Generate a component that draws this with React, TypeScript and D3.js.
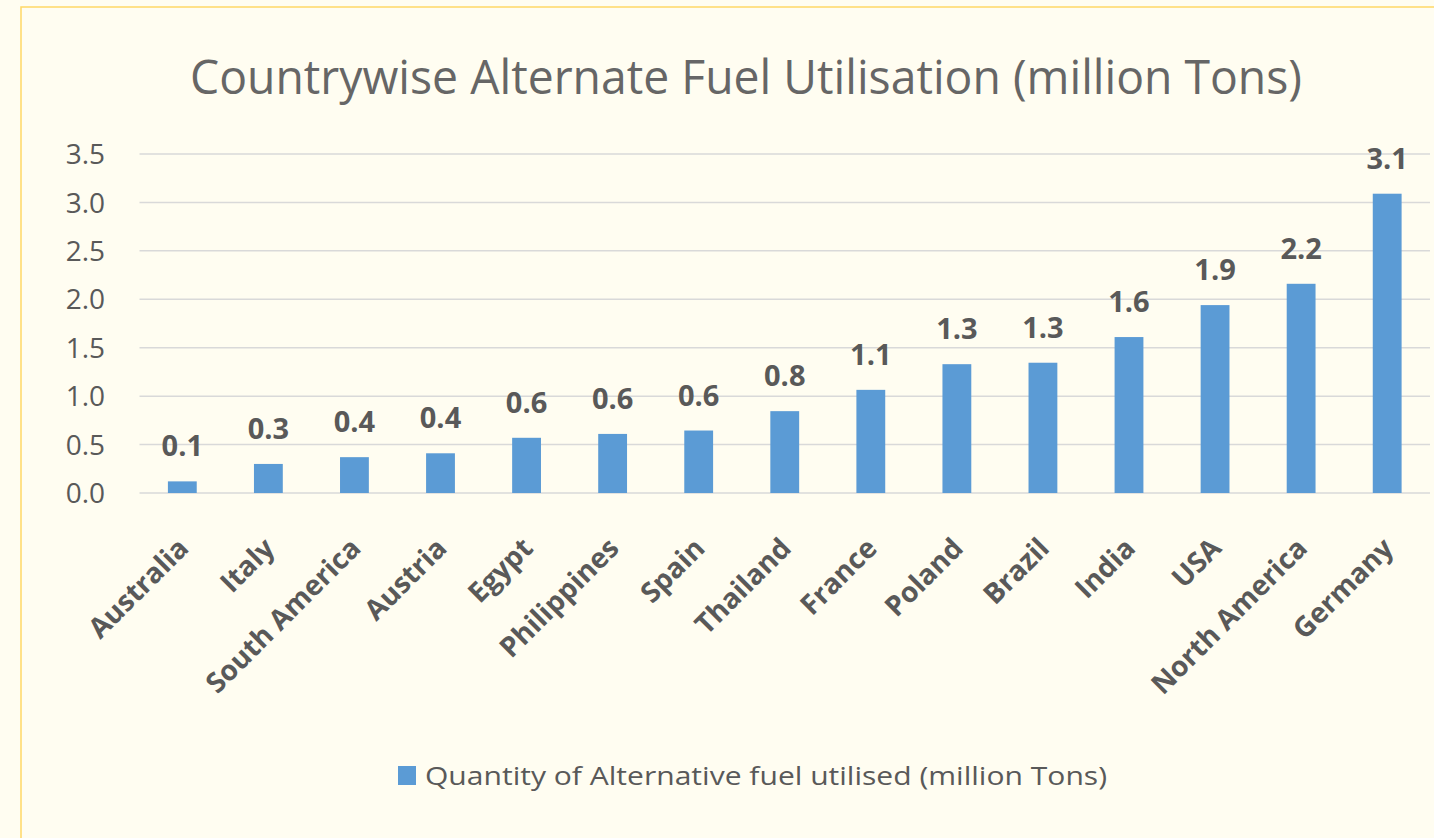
import React from "react";
import * as d3 from "d3";

const countries = [
  "Australia", "Italy", "South America", "Austria", "Egypt", "Philippines", "Spain",
  "Thailand", "France", "Poland", "Brazil", "India", "USA", "North America", "Germany",
];
const quantities = [
  0.12, 0.3, 0.37, 0.41, 0.57, 0.61, 0.645, 0.845, 1.065, 1.33, 1.345, 1.61, 1.94, 2.16, 3.09,
];
const yTicks = [0, 0.5, 1, 1.5, 2, 2.5, 3, 3.5];
const title = "Countrywise Alternate Fuel Utilisation (million Tons)";
const seriesName = "Quantity of Alternative fuel utilised (million Tons)";

const width = 1434,
  height = 838;
const margin = { top: 154, right: 4, bottom: 345, left: 139.5 };

const App = () => {
  const data = countries.map((c, i) => ({ country: c, value: quantities[i] }));

  const x = d3
    .scaleBand()
    .domain(countries)
    .range([margin.left, width - margin.right])
    .paddingInner(0.665)
    .paddingOuter(0.33);

  const y = d3
    .scaleLinear()
    .domain([0, 3.5])
    .range([height - margin.bottom, margin.top]);

  const fmt = d3.format(".1f");
  const font = "'Open Sans', 'Noto Sans', sans-serif";
  const textColor = "#595959";

  return (
    <svg
      width={width}
      height={height}
      style={{ position: "absolute", left: 0, top: 0 }}
      fontFamily={font}
    >
      <rect width={width} height={height} fill="#FFFDF1" />
      <rect x={21} y={7} width={width + 20} height={height + 20} fill="none" stroke="#FFD866" strokeWidth={1.5} />

      <text
        x={746}
        y={94}
        textAnchor="middle"
        fontSize={47}
        fill="#666666"
        textLength={1112}
        lengthAdjust="spacingAndGlyphs"
      >
        {title}
      </text>

      {/* grid + y axis */}
      <g>
        {yTicks.map((t) => (
          <g key={t}>
            <line
              x1={margin.left}
              x2={width - margin.right}
              y1={y(t)}
              y2={y(t)}
              stroke="#D9D9D9"
              strokeWidth={1.5}
            />
            <text x={105} y={y(t)} dy="0.36em" textAnchor="end" fontSize={28} fill={textColor}>
              {fmt(t)}
            </text>
          </g>
        ))}
      </g>

      {/* bars */}
      <g>
        {data.map((d) => (
          <rect
            key={d.country}
            x={x(d.country)}
            y={y(d.value)}
            width={x.bandwidth()}
            height={y(0) - y(d.value)}
            fill="#5B9BD5"
          />
        ))}
      </g>

      {/* value labels */}
      <g>
        {data.map((d) => (
          <text
            key={d.country}
            x={(x(d.country) ?? 0) + x.bandwidth() / 2}
            y={y(d.value) - 25}
            textAnchor="middle"
            fontSize={29}
            fontWeight="bold"
            fill={textColor}
          >
            {fmt(d.value)}
          </text>
        ))}
      </g>

      {/* x labels */}
      <g>
        {countries.map((c) => {
          const cx = (x(c) ?? 0) + x.bandwidth() / 2;
          return (
            <text
              key={c}
              transform={`translate(${cx + 1},${y(0) + 50}) rotate(-45)`}
              dy="0.35em"
              textAnchor="end"
              fontSize={28}
              fontWeight="bold"
              fill={textColor}
            >
              {c}
            </text>
          );
        })}
      </g>

      {/* legend */}
      <g>
        <rect x={398} y={766} width={18} height={19} fill="#5B9BD5" />
        <text
          x={425}
          y={785}
          fontSize={26}
          fill={textColor}
          textLength={682}
          lengthAdjust="spacingAndGlyphs"
        >
          {seriesName}
        </text>
      </g>
    </svg>
  );
};

export default App;
